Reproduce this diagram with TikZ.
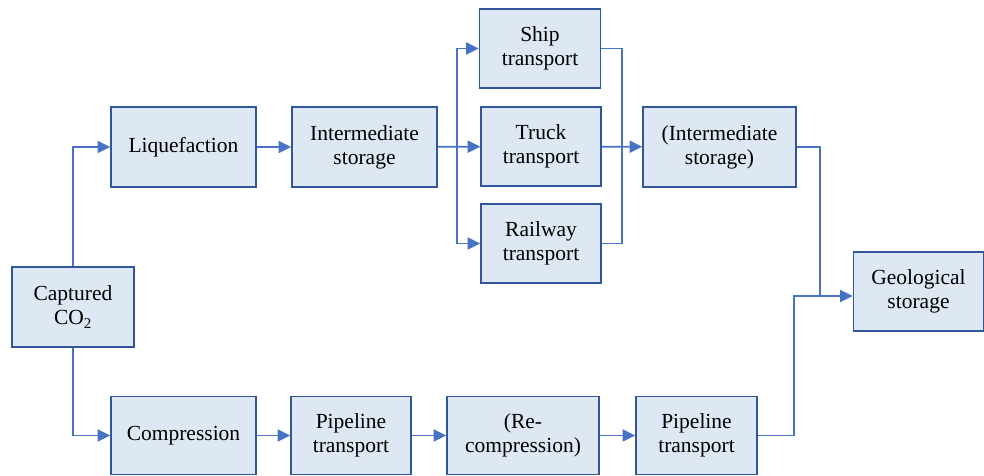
\documentclass[tikz,border=0pt]{standalone}
\usepackage{fontspec}
\setmainfont{Liberation Serif}
\newfontfamily\ccfont{Liberation Serif}
\usepackage{xcolor}
\definecolor{boxfill}{RGB}{222,231,244}
\definecolor{boxframe}{RGB}{50,86,156}
\definecolor{linkblue}{RGB}{72,114,196}
\usepackage{tikz}
\usetikzlibrary{arrows.meta,positioning,calc}
\tikzset{
  cc_box/.style={rectangle,
    draw=boxframe,fill=boxfill,line width=1.6pt,
    align=center,inner sep=2pt,
    font=\ccfont\fontsize{21.5}{24}\selectfont},
  cc_arr/.style={-{Triangle[length=12.5pt,width=12pt]},line width=1.8pt,draw=linkblue},
  cc_line/.style={line width=1.8pt,draw=linkblue},
}

\begin{document}
\begin{tikzpicture}[x=1pt,y=-1pt]
  \useasboundingbox (0,0) rectangle (984,475);
  % upper route: liquefaction and transport by ship, truck or rail
  \node (cap)   [cc_box,minimum width=122pt,minimum height=80pt] at (73,307)    {Captured\\CO\textsubscript{2}};
  \node (liq)   [cc_box,minimum width=145pt,minimum height=80pt] at (183.5,147) {Liquefaction};
  \node (ist)   [cc_box,minimum width=145pt,minimum height=80pt] at (364.5,147) {Intermediate\\storage};
  \node (ship)  [cc_box,minimum width=121pt,minimum height=79pt] at (540,48.5)  {Ship\\transport};
  \node (truck) [cc_box,minimum width=120pt,minimum height=79pt] at (541,146.5) {Truck\\transport};
  \node (rail)  [cc_box,minimum width=120pt,minimum height=79pt] at (541,243.5) {Railway\\transport};
  \node (ist2)  [cc_box,minimum width=153pt,minimum height=80pt] at (719.5,147) {(Intermediate\\storage)};
  \node (geo)   [cc_box,minimum width=130pt,minimum height=79pt] at (918.5,291.5) {Geological\\storage};
  % lower route: compression and pipeline
  \node (comp)  [cc_box,minimum width=145pt,minimum height=78pt] at (183.5,435.5) {Compression};
  \node (pipe1) [cc_box,minimum width=120pt,minimum height=78pt] at (351,435.5)   {Pipeline\\transport};
  \node (recmp) [cc_box,minimum width=152pt,minimum height=78pt] at (523,435.5)   {(Re-\\compression)};
  \node (pipe2) [cc_box,minimum width=121pt,minimum height=78pt] at (696.5,435.5) {Pipeline\\transport};

  % junction points
  \coordinate (split) at (457,147);
  \coordinate (merge) at (622,147);
  \coordinate (join)  at (820,296);

  \draw[cc_arr] (cap.north) |- (liq.west);
  \draw[cc_arr] (liq) -- (ist);
  \draw[cc_arr] (ist) -- (truck);
  \draw[cc_arr] (split) |- (ship.west);
  \draw[cc_arr] (split) |- (rail.west);
  \draw[cc_line] (ship.east) -| (merge) |- (rail.east);
  \draw[cc_arr] (truck) -- (ist2);
  \draw[cc_line] (ist2.east) -| (join);
  \draw[cc_arr] (join) -- (join -| geo.west);

  \draw[cc_arr] (cap.south) |- (comp.west);
  \draw[cc_arr] (comp) -- (pipe1);
  \draw[cc_arr] (pipe1) -- (recmp);
  \draw[cc_arr] (recmp) -- (pipe2);
  \draw[cc_line] (pipe2.east) -| ($(join)+(-26,0)$) -- (join);
\end{tikzpicture}
\end{document}
